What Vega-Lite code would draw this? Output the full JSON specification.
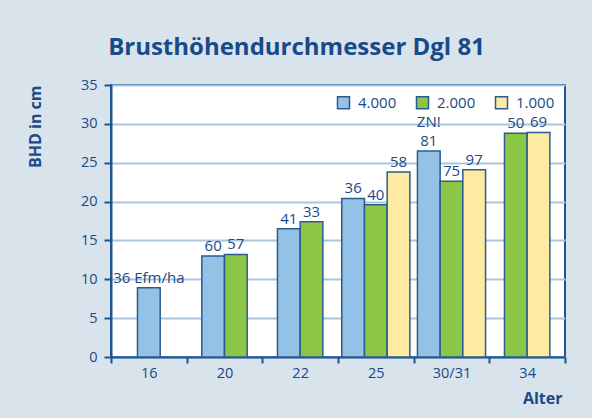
{
  "$schema": "https://vega.github.io/schema/vega-lite/v6.json",
  "width": 454,
  "height": 272,
  "autosize": {"type": "none"},
  "padding": {"left": 111, "top": 85, "right": 27, "bottom": 61},
  "background": "#d9e3ec",
  "title": {
    "text": "Brusthöhendurchmesser Dgl 81",
    "fontSize": 24,
    "fontWeight": "bold",
    "font": "Open Sans",
    "color": "#174a86",
    "anchor": "middle",
    "frame": "bounds",
    "baseline": "alphabetic",
    "offset": -2
  },
  "data": {
    "values": [
      {"Alter": "16", "Serie": "4.000", "BHD": 8.9, "Label": "36 Efm/ha", "Hinweis": ""},
      {"Alter": "20", "Serie": "4.000", "BHD": 13.0, "Label": "60", "Hinweis": ""},
      {"Alter": "20", "Serie": "2.000", "BHD": 13.2, "Label": "57", "Hinweis": ""},
      {"Alter": "22", "Serie": "4.000", "BHD": 16.5, "Label": "41", "Hinweis": ""},
      {"Alter": "22", "Serie": "2.000", "BHD": 17.4, "Label": "33", "Hinweis": ""},
      {"Alter": "25", "Serie": "4.000", "BHD": 20.4, "Label": "36", "Hinweis": ""},
      {"Alter": "25", "Serie": "2.000", "BHD": 19.6, "Label": "40", "Hinweis": ""},
      {"Alter": "25", "Serie": "1.000", "BHD": 23.8, "Label": "58", "Hinweis": ""},
      {"Alter": "30/31", "Serie": "4.000", "BHD": 26.5, "Label": "81", "Hinweis": "ZN!"},
      {"Alter": "30/31", "Serie": "2.000", "BHD": 22.6, "Label": "75", "Hinweis": ""},
      {"Alter": "30/31", "Serie": "1.000", "BHD": 24.1, "Label": "97", "Hinweis": ""},
      {"Alter": "34", "Serie": "2.000", "BHD": 28.8, "Label": "50", "Hinweis": ""},
      {"Alter": "34", "Serie": "1.000", "BHD": 28.9, "Label": "69", "Hinweis": ""}
    ]
  },
  "transform": [
    {"window": [{"op": "rank", "as": "r"}], "groupby": ["Alter"], "sort": [{"field": "Serie", "order": "descending"}]},
    {"joinaggregate": [{"op": "count", "as": "n"}], "groupby": ["Alter"]},
    {"calculate": "datum.r - (datum.n + 1) / 2", "as": "slot"}
  ],
  "encoding": {
    "x": {
      "field": "Alter",
      "type": "nominal",
      "sort": ["16", "20", "22", "25", "30/31", "34"],
      "scale": {"paddingInner": 0, "paddingOuter": 0},
      "axis": {
        "title": "Alter",
        "labelAngle": 0,
        "tickBand": "extent",
        "titleAnchor": "end",
        "titleAlign": "right",
        "titleX": 451,
        "titleY": 46,
        "titleBaseline": "alphabetic"
      }
    },
    "xOffset": {
      "field": "slot",
      "type": "quantitative",
      "scale": {"domain": [-1, 1], "range": [15.13, 60.53]}
    },
    "y": {
      "field": "BHD",
      "type": "quantitative",
      "scale": {"domain": [0, 35]},
      "axis": {
        "values": [0, 5, 10, 15, 20, 25, 30, 35],
        "title": "BHD in cm",
        "titleAngle": -90,
        "titleAlign": "right",
        "titleBaseline": "middle",
        "titleX": -76,
        "titleY": 0,
        "tickSize": 7,
        "labelPadding": 7
      }
    }
  },
  "layer": [
    {
      "mark": {"type": "bar", "width": 22.7, "stroke": "#2a5b92", "strokeWidth": 1.5},
      "encoding": {
        "color": {
          "field": "Serie",
          "type": "nominal",
          "scale": {"domain": ["4.000", "2.000", "1.000"], "range": ["#94c2e7", "#8bc646", "#feeaa0"]},
          "legend": {
            "title": null,
            "orient": "top-right",
            "direction": "horizontal",
            "offset": 10,
            "padding": 0,
            "symbolType": "square",
            "symbolSize": 144,
            "symbolStrokeColor": "#2a5b92",
            "symbolStrokeWidth": 1.5,
            "labelFontSize": 15,
            "labelFont": "Open Sans",
            "labelColor": "#174a86",
            "labelOffset": 7,
            "columnPadding": 16
          }
        }
      }
    },
    {
      "mark": {"type": "text", "baseline": "bottom", "dy": -2, "fontSize": 15, "font": "Open Sans", "color": "#174a86"},
      "encoding": {"text": {"field": "Label"}}
    },
    {
      "mark": {"type": "text", "baseline": "bottom", "dy": -21, "fontSize": 15, "font": "Open Sans", "color": "#174a86"},
      "encoding": {"text": {"field": "Hinweis"}}
    }
  ],
  "config": {
    "view": {"fill": "white", "stroke": "#1f5592", "strokeWidth": 2},
    "axis": {
      "domainColor": "#1f5592",
      "domainWidth": 2,
      "tickColor": "#1f5592",
      "tickWidth": 2,
      "tickSize": 6,
      "labelPadding": 3,
      "labelFont": "Open Sans",
      "labelFontSize": 14.5,
      "labelColor": "#174a86",
      "titleFont": "Open Sans",
      "titleFontSize": 16,
      "titleFontWeight": "bold",
      "titleColor": "#174a86",
      "gridColor": "#a9c5e1",
      "gridWidth": 2,
      "gridOpacity": 1
    },
    "axisX": {"grid": false},
    "axisY": {"grid": true}
  }
}
